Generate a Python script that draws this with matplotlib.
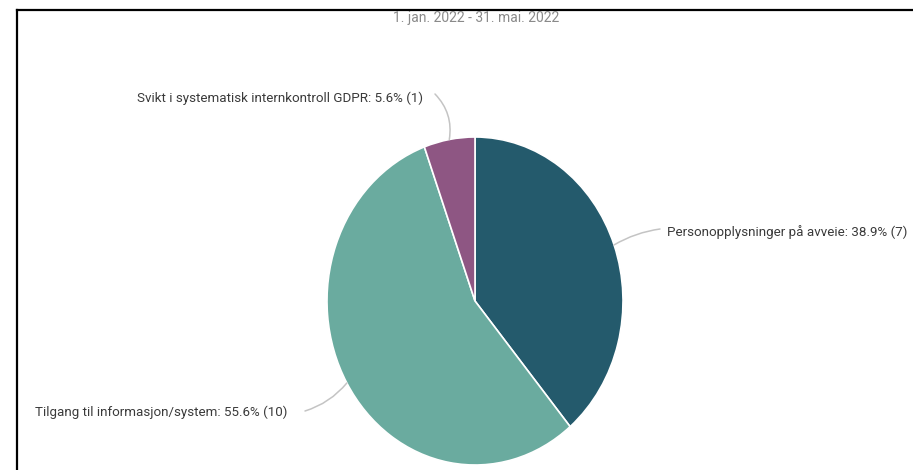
import matplotlib
matplotlib.use("Agg")
import matplotlib.pyplot as plt
import numpy as np
from matplotlib.lines import Line2D

categories = ["Personopplysninger på avveie",
              "Tilgang til informasjon/system",
              "Svikt i systematisk internkontroll GDPR"]
counts = [7, 10, 1]
colors = ["#245a6c", "#6aab9f", "#8e5683"]
subtitle = "1. jan. 2022 - 31. mai. 2022"

plt.rcParams['font.family'] = ['Roboto', 'DejaVu Sans']

W, H = 913, 470
fig = plt.figure(figsize=(W / 100, H / 100), dpi=100)
fig.patch.set_facecolor("white")

# pie is squashed a bit horizontally in the reference, so aspect auto
ax = fig.add_axes([327 / W, 5 / H, 296 / W, 328 / H])
wedges, _ = ax.pie(counts, colors=colors, startangle=90, counterclock=False,
                   wedgeprops=dict(edgecolor="white", linewidth=1.2))
ax.set_aspect("auto")
ax.set_xlim(-1, 1)
ax.set_ylim(-1, 1)

total = sum(counts)
# label placement (figure pixels from top), line start and text anchor
lab = [
    dict(line=(660, 229), text=(667, 232), ha="left", rad=0.1),
    dict(line=(305, 411), text=(287, 412), ha="right", rad=0.15),
    dict(line=(435, 94), text=(423, 98), ha="right", rad=-0.25),
]
for w, name, n, L in zip(wedges, categories, counts, lab):
    mid = np.deg2rad((w.theta1 + w.theta2) / 2)
    edge = (np.cos(mid), np.sin(mid))
    ax.annotate("", xy=edge, xycoords="data",
                xytext=(L["line"][0], H - L["line"][1]), textcoords="figure pixels",
                arrowprops=dict(arrowstyle="-", color="#c4c4c4", lw=1.1,
                                shrinkA=0, shrinkB=0,
                                connectionstyle="arc3,rad=%s" % L["rad"]),
                annotation_clip=False)
    txt = "%s: %.1f%% (%d)" % (name, 100.0 * n / total, n)
    fig.text(L["text"][0] / W, 1 - L["text"][1] / H, txt, ha=L["ha"], va="center",
             fontsize=9.6, color="#3a3a3a")

fig.text(476 / W, 1 - 18 / H, subtitle, ha="center", va="center",
         fontsize=10, color="#8a8a8a")

# frame lines (left and top only)
fig.add_artist(Line2D([17 / W, 17 / W], [0, 1 - 10 / H], color="black", lw=1.6,
                      transform=fig.transFigure))
fig.add_artist(Line2D([17 / W, 1], [1 - 10 / H, 1 - 10 / H], color="black", lw=1.6,
                      transform=fig.transFigure))

fig.savefig("out.png", dpi=100, facecolor="white")
